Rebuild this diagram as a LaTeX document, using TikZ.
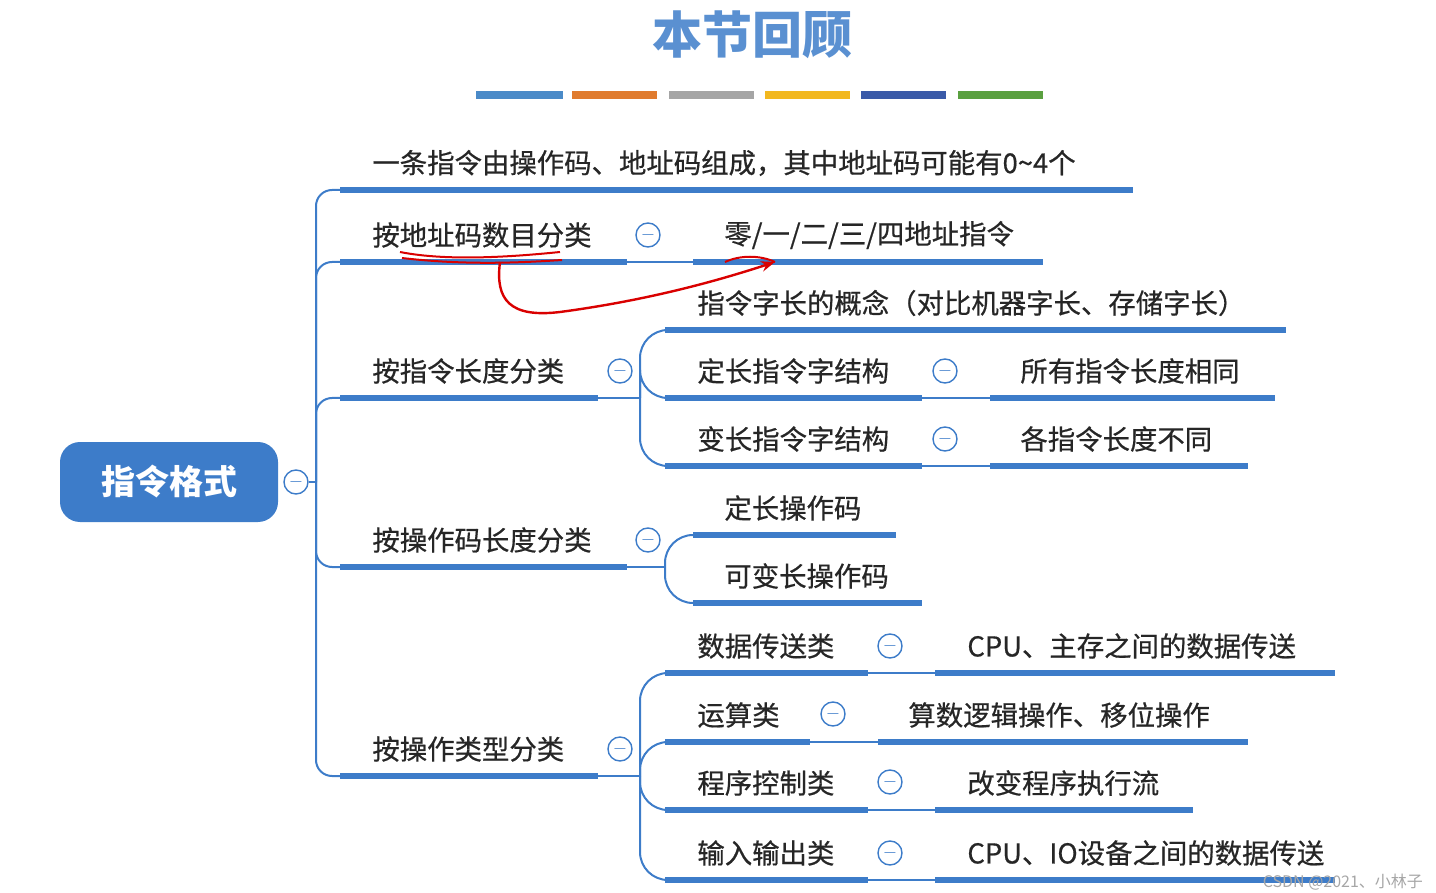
\documentclass[tikz,border=0pt]{standalone}
\usepackage{fontspec}
\usetikzlibrary{arrows.meta}
\setmainfont{Noto Sans CJK SC}
\newfontfamily\medfont{Noto Sans CJK SC}[FakeBold=0.6]
\begin{document}
\begin{tikzpicture}[x=0.5pt,y=-0.5pt]
\definecolor{mb}{HTML}{3D7CC9}
\tikzset{uline/.style={draw=mb,line width=2.6pt},
 conn/.style={draw=mb,line width=1pt,rounded corners=8pt},
 txt/.style={anchor=west,inner sep=0pt,font=\medfont\fontsize{13.7}{15}\selectfont,text=black!85},
 minus/.style={circle,draw=mb,line width=0.7pt,minimum size=12pt,inner sep=0pt,font=\fontsize{9}{9}\selectfont,text=mb},
 bar/.style={line width=4pt}}
\useasboundingbox (0,0) rectangle (1436,893);
\newcommand\mitem[6]{\coordinate (#1-l) at (#2,#4);\coordinate (#1-r) at (#3,#4);
 \draw[uline] (#1-l) -- (#1-r);
 \node[txt] (#1) at (#5,#4-27) {#6};}
% title
\node[font=\fontsize{25}{28}\selectfont\bfseries,text=mb!85] (title) at (752,35) {本节回顾};
\draw[bar,color={rgb,255:red,74;green,138;blue,200}] (476,95)--(563,95);
\draw[bar,color={rgb,255:red,224;green,123;blue,46}] (572,95)--(657,95);
\draw[bar,color={rgb,255:red,165;green,165;blue,165}] (669,95)--(754,95);
\draw[bar,color={rgb,255:red,242;green,184;blue,32}] (765,95)--(850,95);
\draw[bar,color={rgb,255:red,58;green,90;blue,168}] (861,95)--(946,95);
\draw[bar,color={rgb,255:red,90;green,160;blue,64}] (958,95)--(1043,95);
% root
\node[fill=mb,rounded corners=10pt,minimum width=109pt,minimum height=40pt,text=white,font=\fontsize{17}{20}\selectfont\bfseries] (root) at (169,482) {指令格式};
\node[minus] (m0) at (296,482) {$-$};
\coordinate (trunk) at (316,482);
% level 1
\mitem{a}{340}{1133}{190}{372}{一条指令由操作码、地址码组成，其中地址码可能有0\textasciitilde4个}
\mitem{b}{340}{627}{262}{372}{按地址码数目分类}
\mitem{c}{340}{598}{398}{372}{按指令长度分类}
\mitem{d}{340}{627}{567}{372}{按操作码长度分类}
\mitem{e}{340}{598}{776}{372}{按操作类型分类}
\draw[conn] (m0.east) -- (trunk);
\foreach \n in {a,b,c,d,e} \draw[conn] (trunk) -- (trunk |- \n-l) -- (\n-l);
% b
\node[minus] at (648,235) {$-$};
\mitem{b1}{693}{1043}{262}{724}{零/一/二/三/四地址指令}
\draw[conn] (b-r) -- (b1-l);
% c
\node[minus] at (620,371) {$-$};
\coordinate (cj) at (640,398);
\mitem{c1}{665}{1286}{330}{697}{指令字长的概念（对比机器字长、存储字长）}
\mitem{c2}{665}{922}{398}{697}{定长指令字结构}
\mitem{c3}{665}{922}{466}{697}{变长指令字结构}
\draw[conn] (c-r) -- (cj);
\foreach \n in {c1,c2,c3} \draw[conn,rounded corners=14pt] (cj) -- (cj |- \n-l) -- (\n-l);
\node[minus] at (945,371) {$-$};
\node[minus] at (945,439) {$-$};
\mitem{c21}{990}{1275}{398}{1020}{所有指令长度相同}
\mitem{c31}{990}{1248}{466}{1020}{各指令长度不同}
\draw[conn] (c2-r) -- (c21-l);
\draw[conn] (c3-r) -- (c31-l);
% d
\node[minus] at (648,540) {$-$};
\coordinate (dj) at (665,567);
\mitem{d1}{693}{896}{535}{724}{定长操作码}
\mitem{d2}{693}{922}{603}{724}{可变长操作码}
\draw[conn] (d-r) -- (dj);
\foreach \n in {d1,d2} \draw[conn,rounded corners=14pt] (dj) -- (dj |- \n-l) -- (\n-l);
% e
\node[minus] at (620,749) {$-$};
\coordinate (ej) at (640,776);
\mitem{e1}{665}{868}{673}{697}{数据传送类}
\mitem{e2}{665}{810}{742}{697}{运算类}
\mitem{e3}{665}{868}{810}{697}{程序控制类}
\mitem{e4}{665}{868}{880}{697}{输入输出类}
\draw[conn] (e-r) -- (ej);
\foreach \n in {e1,e2,e3,e4} \draw[conn,rounded corners=14pt] (ej) -- (ej |- \n-l) -- (\n-l);
\node[minus] at (890,646) {$-$};
\node[minus] at (833,714) {$-$};
\node[minus] at (890,782) {$-$};
\node[minus] at (890,853) {$-$};
\mitem{e11}{935}{1335}{673}{967}{CPU、主存之间的数据传送}
\mitem{e21}{878}{1248}{742}{908}{算数逻辑操作、移位操作}
\mitem{e31}{935}{1193}{810}{967}{改变程序执行流}
\mitem{e41}{935}{1335}{880}{967}{CPU、IO设备之间的数据传送}
\foreach \p/\c in {e1/e11,e2/e21,e3/e31,e4/e41} \draw[conn] (\p-r) -- (\c-l);
% red annotation
\draw[red!85!black,line width=1pt] (400,252) .. controls (450,262) and (520,256) .. (560,252);
\draw[red!85!black,line width=1pt] (402,258) .. controls (470,266) and (530,262) .. (562,260);
\draw[red!85!black,line width=1.2pt,-{Stealth[length=7pt]}] (500,262) .. controls (495,300) and (510,318) .. (560,312) .. controls (650,300) and (720,280) .. (775,262);
\draw[red!85!black,line width=1pt] (725,262) .. controls (740,255) and (760,255) .. (775,262);
% watermark
\node[anchor=east,text=gray!70,font=\fontsize{8}{9}\selectfont] (wm) at (1430,882) {CSDN @2021、小林子};
\end{tikzpicture}
\end{document}
